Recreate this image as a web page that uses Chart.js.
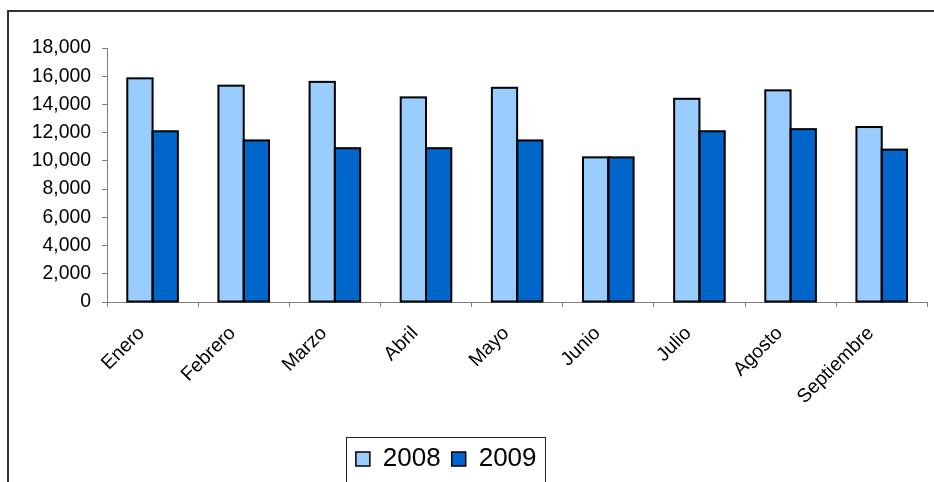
<!DOCTYPE html>
<html><head><meta charset="utf-8">
<script src="https://cdn.jsdelivr.net/npm/chart.js@4"></script>
<style>html,body{margin:0;padding:0;background:#fff;overflow:hidden;}#wrap{width:934px;height:482px;position:relative;}</style>
</head><body><div id="wrap"><canvas id="c" width="934" height="482"></canvas></div>
<script>
const categories = ['Enero','Febrero','Marzo','Abril','Mayo','Junio','Julio','Agosto','Septiembre'];
const seriesNames = ['2008','2009'];
const values2008 = [15850,15330,15600,14500,15180,10250,14400,15000,12400];
const values2009 = [12100,11450,10900,10900,11450,10250,12100,12250,10800];
const yTickLabels = ['0','2,000','4,000','6,000','8,000','10,000','12,000','14,000','16,000','18,000'];

const FONT = 'Liberation Sans, Arial, sans-serif';

const framePlugin = {
  id: 'frame',
  afterLayout(chart) {
    const l = chart.legend;
    if (l) { l.left = 340.2; l.right = 552.2; l.width = l.right - l.left; }
  },
  afterDatasetsDraw(chart) {
    const ctx = chart.ctx;
    ctx.save();
    ctx.strokeStyle = '#000';
    ctx.lineWidth = 2;
    chart.data.datasets.forEach((ds, i) => {
      const meta = chart.getDatasetMeta(i);
      meta.data.forEach(bar => {
        const p = bar.getProps(['x', 'y', 'base', 'width'], true);
        ctx.strokeRect(p.x - p.width / 2, p.y, p.width, p.base - p.y);
      });
    });
    ctx.restore();
  },
  afterDraw(chart) {
    const ctx = chart.ctx;
    ctx.save();
    ctx.fillStyle = '#333';
    ctx.fillRect(7, 10, 2, 472);
    ctx.fillRect(7, 10, 927, 2);
    ctx.strokeStyle = '#222';
    ctx.lineWidth = 1;
    ctx.strokeRect(346.5, 437.5, 199, 100);
    ctx.restore();
  }
};

new Chart(document.getElementById('c'), {
  type: 'bar',
  data: {
    labels: categories,
    datasets: [
      { label: seriesNames[0], data: values2008, backgroundColor: '#99CCFF', borderWidth: 0 },
      { label: seriesNames[1], data: values2009, backgroundColor: '#0066CC', borderWidth: 0 }
    ]
  },
  options: {
    responsive: false,
    devicePixelRatio: 1,
    animation: false,
    datasets: { bar: { categoryPercentage: 0.555, barPercentage: 1.0 } },
    layout: { padding: { top: 48, right: 6.7, bottom: 0, left: 0 } },
    plugins: {
      legend: {
        position: 'bottom',
        labels: {
          boxWidth: 14, boxHeight: 14, padding: 11, color: '#000', font: { family: FONT, size: 26 },
          generateLabels(chart) {
            return chart.data.datasets.map((ds, i) => ({
              text: ds.label, fillStyle: ds.backgroundColor, strokeStyle: '#000', lineWidth: 1.5,
              hidden: false, datasetIndex: i, fontColor: '#000'
            }));
          }
        }
      },
      tooltip: { enabled: false },
      title: { display: false }
    },
    scales: {
      x: {
        grid: { display: true, offset: true, drawOnChartArea: false, drawTicks: true, tickLength: 5, color: '#808080' },
        border: { display: true, color: '#808080', width: 1 },
        ticks: { autoSkip: false, maxRotation: 45, minRotation: 45, padding: 15, labelOffset: -11, color: '#000', font: { family: FONT, size: 19.4 } },
        afterFit(scale) { scale.height = 133; }
      },
      y: {
        min: 0, max: 18000,
        grid: { display: true, drawOnChartArea: false, drawTicks: true, tickLength: 5, color: '#808080' },
        border: { display: true, color: '#808080', width: 1 },
        ticks: { stepSize: 2000, padding: 11, color: '#000', font: { family: FONT, size: 19.4 },
          callback: (v, i) => yTickLabels[i] },
        afterFit(scale) { scale.width = 107; }
      }
    }
  },
  plugins: [framePlugin]
});
</script></body></html>
